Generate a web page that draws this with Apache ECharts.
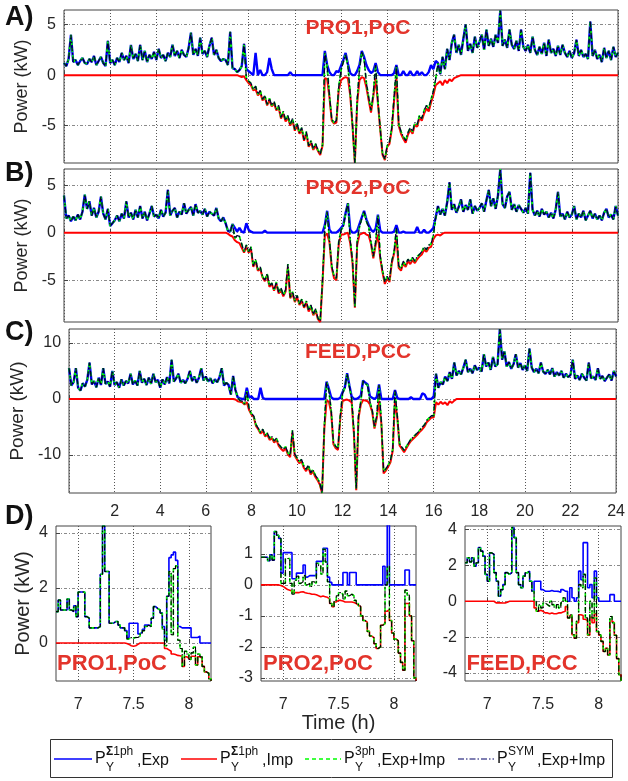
<!DOCTYPE html>
<html><head><meta charset="utf-8">
<script src="https://cdn.jsdelivr.net/npm/echarts@6/dist/echarts.min.js"></script>
<style>html,body{margin:0;padding:0;background:#fff}#c{width:628px;height:781px}</style>
</head><body><div id="c"></div>
<script>
// ---------------- DATA ----------------
// Top panels: 0..24 h, one value every 0.1 h
const topStep = 0.1;
const topTicksX = [2,4,6,8,10,12,14,16,18,20,22,24];

const netA = [
1.2,0.9,1.6,4.0,1.3,1.5,1.0,1.4,1.7,1.2,
1.1,1.6,1.3,1.9,1.0,1.4,1.8,1.2,0.9,3.4,
1.2,1.5,1.0,1.7,1.3,2.2,1.5,1.9,1.2,3.0,
1.6,2.1,1.4,3.0,1.5,2.4,1.3,2.0,1.6,2.3,
1.5,2.6,1.7,2.0,1.4,2.2,1.8,3.0,1.9,2.4,
1.7,2.5,2.0,1.8,2.7,4.2,2.0,2.6,1.9,3.7,
2.1,2.4,1.8,2.9,3.7,2.0,2.5,1.7,1.4,1.6,
1.5,1.0,4.3,0.7,0.6,0.3,0.5,0.9,3.1,-0.3,
-0.6,-0.8,-1.4,-1.1,-1.9,-1.5,-2.4,-2.0,-2.9,-2.3,
-3.0,-2.6,-3.4,-3.0,-4.2,-3.6,-4.5,-4.0,-4.9,-4.3,
-5.4,-4.8,-5.7,-5.2,-6.4,-5.6,-7.0,-6.5,-7.3,-6.8,
-7.4,-7.8,-6.9,2.2,0.8,-2.0,-4.4,-4.7,-4.5,-1.2,
0.5,1.3,2.0,0.9,-1.8,-5.0,-8.7,-2.5,0.6,2.3,
1.6,-0.8,-2.2,-3.5,-1.8,1.0,-2.6,-5.3,-7.8,-8.3,
-7.0,-6.6,-5.2,-2.2,0.9,-4.8,-5.6,-6.1,-6.5,-5.7,
-5.2,-5.6,-4.7,-4.9,-4.0,-4.3,-3.5,-3.0,-3.3,-2.4,
-1.6,-0.4,1.2,0.1,1.8,0.6,2.6,1.5,3.2,4.0,
2.2,3.0,2.0,3.6,5.0,2.4,3.1,2.2,3.8,2.7,
3.3,4.0,2.5,4.5,2.9,3.6,2.8,4.0,3.2,6.4,
2.9,3.5,2.7,4.5,3.0,2.6,3.4,2.4,4.5,2.8,
2.4,3.0,2.2,3.8,2.5,2.0,2.8,2.1,3.2,1.9,
3.5,2.2,2.6,1.9,2.9,2.0,3.0,2.2,1.8,2.4,
1.7,2.2,3.5,1.9,2.5,1.8,2.1,1.6,5.3,1.9,
2.5,1.6,2.0,1.3,2.7,1.7,2.4,1.5,2.8,1.8,
2.2];
const expADayStart = 7.7;
const expADay = [
0.9,3.1,0.6,
0.4,0.2,0.0,2.2,0.0,0.5,0.0,0.0,0.3,1.7,
0.6,0.0,0.0,0.0,0.0,0.0,0.0,0.0,0.3,0.0,
0.0,0.0,0.0,0.0,0.0,0.0,0.0,0.0,0.0,0.0,
0.0,0.0,0.0,2.4,1.0,0.3,0.0,0.0,0.4,0.3,
0.9,1.5,2.2,1.1,0.2,0.0,0.0,0.4,1.0,2.4,
1.8,1.0,0.5,0.2,0.4,1.2,0.3,0.0,0.0,0.0,
0.0,0.0,0.0,0.2,1.0,0.0,0.0,0.4,0.0,0.0,
0.4,0.0,0.0,0.4,0.0,0.3,0.0,0.0,0.3,1.0,
0.6,1.4];
const impADayStart = 7.5;
const impADay = [
0.0,-0.1,-0.2,-0.1,-0.5,
-0.8,-1.0,-1.5,-1.4,-2.0,-1.7,-2.5,-2.2,-3.0,-2.5,
-3.1,-2.8,-3.5,-3.2,-4.3,-3.8,-4.6,-4.2,-5.0,-4.5,
-5.5,-5.0,-5.8,-5.4,-6.5,-5.8,-7.1,-6.7,-7.4,-7.0,
-7.5,-7.9,-7.0,-0.3,-0.4,-2.2,-4.5,-4.8,-4.7,-1.5,
-0.5,-0.3,-0.2,-0.3,-2.0,-5.1,-8.7,-2.8,-0.5,-0.2,
-0.3,-1.2,-2.5,-3.7,-2.1,-0.3,-2.8,-5.4,-7.9,-8.4,
-7.1,-6.8,-5.4,-2.5,-0.3,-5.0,-5.8,-6.3,-6.7,-5.9,
-5.4,-5.8,-4.9,-5.1,-4.2,-4.5,-3.8,-3.3,-3.6,-2.7,
-2.0,-1.0,-0.8,-0.6,-1.0,-0.5,-0.8,-0.4,-0.6,-0.3,
-0.2,-0.1,0.0];

const netB = [
3.9,1.5,1.8,1.2,1.7,1.3,1.9,1.4,2.2,4.0,
2.5,3.3,1.8,2.6,1.6,2.2,3.8,2.0,1.4,2.5,
0.7,1.0,1.3,1.8,1.2,2.0,1.5,3.3,1.6,2.1,
1.4,2.4,1.6,2.8,1.5,2.2,1.3,2.0,2.8,1.7,
1.9,1.5,2.4,1.7,2.1,4.5,1.8,2.3,2.6,1.6,
2.2,1.9,3.1,2.0,2.4,2.7,1.8,3.0,2.1,2.3,
1.9,2.5,1.7,2.2,2.0,1.8,2.6,1.5,1.2,1.6,
1.0,0.2,0.1,0.9,-0.6,-0.3,-0.4,-1.2,-2.0,-1.3,
-2.0,-1.5,-3.5,-2.8,-3.9,-3.6,-4.6,-5.0,-4.3,-5.6,
-5.3,-6.0,-5.2,-6.3,-5.8,-6.6,-6.0,-3.3,-6.8,-6.2,
-7.2,-6.6,-7.5,-7.0,-7.8,-7.2,-8.2,-7.6,-8.6,-8.0,
-9.0,-9.3,-5.0,0.5,2.2,-0.8,-3.5,-4.6,-4.8,-1.0,
0.3,0.6,2.0,3.1,-0.8,-3.0,-7.8,-1.0,0.6,1.5,
2.2,1.2,0.6,-1.0,-2.5,-1.0,1.8,-2.5,-4.0,-5.2,
-4.6,-5.0,-3.0,-2.0,0.5,-3.5,-3.8,-3.0,-3.4,-2.8,
-3.1,-2.6,-3.0,-2.5,-2.3,-2.0,-1.5,-1.8,-1.3,-1.2,
-0.3,1.5,2.8,1.9,2.5,1.8,3.2,5.3,2.4,3.0,
2.1,2.7,3.5,2.2,2.9,2.4,3.5,2.0,2.8,2.3,
2.6,3.1,2.2,3.4,4.5,2.8,3.6,2.5,3.9,6.7,
3.0,2.6,3.8,4.3,2.4,3.0,2.2,2.9,2.5,2.1,
2.6,2.0,6.3,2.4,1.8,2.3,1.7,2.5,1.9,2.2,
1.6,2.1,1.5,2.4,4.3,1.7,2.0,1.4,2.2,1.6,
1.9,2.8,1.4,2.0,1.6,2.3,1.3,1.8,2.3,1.5,
2.0,1.4,1.8,1.3,2.1,2.5,1.6,1.9,1.4,2.8,
1.8];
const expBDayStart = 7.1;
const expBDay = [
0.2,0.1,0.9,0.5,0.1,0.5,0.1,0.0,1.0,
0.3,0.1,0.0,0.0,0.0,0.0,0.0,0.2,0.0,0.0,
0.0,0.0,0.0,0.0,0.0,0.0,0.0,0.0,0.0,0.0,
0.0,0.0,0.0,0.0,0.0,0.0,0.0,0.0,0.0,0.0,
0.0,0.0,0.0,0.8,2.3,0.3,0.0,0.0,0.0,0.2,
0.5,0.8,2.1,3.1,0.3,0.0,0.0,0.2,0.9,1.6,
2.3,1.4,0.8,0.3,0.1,0.4,1.9,0.2,0.0,0.0,
0.0,0.0,0.0,0.1,0.8,0.0,0.0,0.1,0.0,0.0,
0.0,0.0,0.0,0.6,0.0,0.0,0.3,0.0,0.0,0.2,
0.5,1.6];
const impBDayStart = 7.0;
const impBDay = [
0.0,-0.1,-0.3,-0.4,-0.8,-1.0,-1.1,-1.6,-2.1,-1.5,
-2.1,-1.7,-3.6,-3.0,-4.0,-3.8,-4.7,-5.1,-4.5,-5.7,
-5.4,-6.1,-5.4,-6.4,-6.0,-6.7,-6.2,-3.6,-6.9,-6.4,
-7.3,-6.8,-7.6,-7.2,-7.9,-7.4,-8.3,-7.8,-8.7,-8.2,
-9.1,-9.4,-5.2,-0.3,-0.1,-1.0,-3.7,-4.8,-5.0,-1.3,
-0.2,-0.2,-0.1,0.0,-1.1,-3.2,-7.9,-1.3,-0.2,-0.1,
0.0,-0.2,-0.3,-1.2,-2.7,-1.3,-0.2,-2.7,-4.2,-5.4,
-4.8,-5.2,-3.2,-2.2,-0.3,-3.7,-4.0,-3.2,-3.6,-3.0,
-3.3,-2.9,-3.2,-2.8,-2.5,-2.3,-1.8,-2.0,-1.6,-1.5,
-0.7,-0.3,-0.2,-0.3,-0.1,0.0];

const netC = [
5.5,2.4,3.0,5.5,2.0,1.5,2.8,2.2,3.4,6.5,
2.6,3.2,2.1,3.8,2.5,5.5,2.7,3.1,2.2,5.0,
2.5,3.0,2.0,3.5,2.4,3.2,2.8,4.5,2.6,3.3,
2.4,5.0,2.9,3.6,2.5,3.8,2.7,4.5,3.0,3.4,
2.0,3.5,2.6,3.9,2.8,7.0,3.1,3.7,4.5,2.9,
3.4,2.8,3.6,5.0,3.2,4.0,2.9,3.8,5.5,3.3,
4.0,3.1,3.7,2.8,3.5,3.0,3.9,5.5,2.4,2.9,
2.5,0.8,4.1,1.6,0.3,-0.3,-0.4,-0.9,1.4,-1.8,
-2.6,-3.0,-4.6,-5.2,-6.0,-5.4,-6.5,-6.1,-7.0,-6.7,
-7.5,-7.0,-8.1,-8.6,-9.0,-8.5,-9.6,-10.1,-5.6,-9.8,
-10.5,-11.2,-10.8,-12.0,-12.6,-11.8,-13.2,-12.6,-13.6,-14.2,
-15.0,-16.8,-5.0,3.0,1.5,-2.0,-7.8,-8.5,-8.8,-3.0,
1.0,2.0,4.5,2.2,0.0,-6.0,-16.0,-3.0,-0.5,3.2,
2.8,2.4,-0.5,-2.0,-5.0,-3.0,2.5,-4.0,-13.0,-12.5,
-11.8,-11.0,-9.0,1.5,-3.0,-8.0,-8.6,-9.2,-8.5,-7.8,
-7.2,-6.8,-6.4,-6.0,-5.5,-5.0,-4.6,-3.8,-3.4,-3.0,
-3.0,4.5,2.0,3.0,2.6,4.0,3.2,4.8,3.6,6.5,
4.2,5.0,4.4,5.6,7.0,4.8,5.4,4.6,6.0,5.2,
5.6,4.9,8.0,5.8,6.5,5.2,7.5,5.8,6.2,12.5,
7.0,8.5,5.8,6.6,5.4,6.2,8.0,5.6,6.4,5.2,
6.0,5.0,9.0,5.6,4.8,5.4,4.6,6.5,4.9,4.5,
5.2,4.4,5.5,4.0,4.8,4.2,5.0,3.8,4.5,3.9,
4.3,7.0,3.6,4.2,3.4,4.5,3.8,3.3,6.5,3.7,
4.0,3.4,5.5,3.6,4.1,3.2,3.8,4.4,3.3,5.0,
4.0];
const expCDayStart = 7.4;
const expCDay = [
0.3,0.1,0.0,0.0,2.0,0.2,
0.5,0.0,0.0,0.0,2.0,0.2,0.0,0.0,0.0,0.0,
0.0,0.0,0.0,0.0,0.0,0.0,0.0,0.0,0.0,0.0,
0.0,0.0,0.0,0.0,0.0,0.0,0.0,0.0,0.0,0.0,
0.0,0.0,0.0,3.1,1.8,0.3,0.0,0.0,0.0,0.2,
1.2,2.1,4.6,2.4,0.4,0.0,0.0,0.2,0.6,3.3,
2.9,2.6,0.5,0.2,0.0,0.3,2.6,0.0,0.0,0.0,
0.0,0.0,0.0,1.6,0.2,0.0,0.0,0.0,0.0,0.0,
0.3,0.0,0.0,0.0,0.0,1.0,0.8,0.0,0.0,0.0,
0.5,4.5];
const impCDayStart = 7.2;
const impCDay = [
0.0,-0.1,-0.4,-0.5,-0.6,-1.0,-0.6,-2.0,
-2.8,-3.2,-4.8,-5.4,-6.2,-5.7,-6.7,-6.4,-7.3,-7.0,
-7.8,-7.3,-8.4,-8.9,-9.3,-8.8,-9.9,-10.4,-6.0,-10.1,
-10.8,-11.5,-11.1,-12.3,-12.9,-12.1,-13.5,-12.9,-13.9,-14.5,
-15.3,-16.8,-5.3,-0.3,-0.5,-2.4,-8.1,-8.8,-9.1,-3.4,
-0.4,-0.2,-0.1,-0.3,-0.6,-6.3,-16.3,-3.4,-1.0,-0.2,
-0.3,-0.4,-1.0,-2.3,-5.3,-3.4,-0.3,-4.3,-13.3,-12.8,
-12.1,-11.3,-9.3,-0.3,-3.3,-8.3,-8.9,-9.5,-8.8,-8.1,
-7.5,-7.1,-6.7,-6.3,-5.8,-5.4,-4.9,-4.1,-3.7,-3.3,
-3.3,-0.6,-1.0,-0.5,-0.9,-0.6,-1.1,-0.4,-0.7,-0.3,
0.0];

// Zoomed panels D: 6.80..8.20 h, one value every 0.02 h
const dStart = 6.8, dStep = 0.02;
const dTicksX = [7, 7.5, 8];
const d1Net = [1.14,1.56,1.2,1.2,1.2,1.6,1.2,1.14,1.35,0.96,1.85,1.85,1.85,0.96,0.9,0.55,0.55,0.55,0.55,0.6,
2.5,4.25,2.6,2.6,0.72,0.72,0.78,0.78,0.65,0.55,0.55,0.45,0.15,0.2,0.18,0.2,0.2,0.25,0.36,0.45,
0.6,0.65,0.6,0.9,1.32,1.25,1.2,1.08,0.5,-0.1,1.7,2.6,0.3,2.7,2.8,0.1,-0.2,-0.85,-0.3,-0.4,
-0.6,-0.36,-0.15,-0.8,-0.4,-0.5,-0.85,-1.05,-1.1,-1.3,-1.38];
const d1Exp = [1.14,1.56,1.2,1.2,1.2,1.6,1.2,1.14,1.35,0.96,1.85,1.85,1.85,0.96,0.9,0.55,0.55,0.55,0.55,0.6,
2.5,4.25,2.6,2.6,0.72,0.72,0.78,0.78,0.65,0.55,0.55,0.45,0.2,0.72,0.72,0.72,0.72,0.33,0.4,0.5,
0.65,0.65,0.6,0.9,1.32,1.25,1.2,1.1,0.6,0.1,1.7,3.1,3.2,3.3,3.0,0.6,0.55,0.55,0.55,0.55,
0.55,0.2,0.2,0.2,0.25,0,0,0,0,0,0];
const d1Imp = [0,0,0,0,0,0,0,0,0,0,0,0,0,0,0,0,0,0,0,0,
0,0,0,0,0,0,0,0,0,0,0,-0.02,-0.05,-0.1,-0.12,-0.1,-0.05,0,0,0,
0,0,0,0,0,0,0,0,0,-0.2,-0.25,-0.3,-0.4,-0.42,-0.45,-0.46,-0.48,-0.85,-0.5,-0.55,
-0.6,-0.48,-0.48,-0.8,-0.5,-0.55,-0.85,-1.05,-1.1,-1.3,-1.38];

const d2Net = [0.89,0.89,0.89,0.78,0.97,0.8,1.72,1.6,1.5,0.05,0.05,0.85,0.85,0.05,-0.3,0.15,0.28,0.05,0.1,0.3,
0.0,0.05,-0.05,0.1,0.05,0.7,0.62,0.35,1.15,0.74,0.1,-0.6,-0.7,-0.5,-0.35,-0.25,-0.3,-0.45,-0.2,-0.35,
-0.3,-0.35,-0.5,-0.6,-0.68,-1.0,-1.15,-1.2,-1.5,-1.65,-1.7,-1.9,-2.05,-2.0,-1.3,-1.25,0.0,0.6,-1.15,-1.55,
-1.75,-1.8,-2.2,-2.5,-2.75,-0.17,-0.33,-1.0,-1.8,-3.0,-3.1];
const d2Exp = [0.89,0.89,0.89,0.78,0.97,0.8,1.72,1.6,1.5,0.38,1.04,1.04,1.04,1.04,0.2,0.2,0.38,0.38,0.38,0.64,
0.25,0.3,0.3,0.3,0.3,0.76,0.76,0.76,1.18,1.18,0.25,0.08,0,0,0,0,0,0.4,0.4,0,
0.4,0.4,0.4,0,0,0,0,0,0,0,0,0,0,0,0,0.6,0,1.94,0,0,
0,0,0,0,0,0.48,0.48,0,0,0,0];
const d2Imp = [0,0,0,0,0,0,0,0,-0.02,-0.05,-0.1,-0.15,-0.17,-0.2,-0.25,-0.25,-0.25,-0.23,-0.22,-0.25,
-0.27,-0.28,-0.3,-0.3,-0.32,-0.35,-0.38,-0.36,-0.38,-0.4,-0.45,-0.6,-0.7,-0.55,-0.5,-0.5,-0.52,-0.55,-0.55,-0.55,
-0.55,-0.57,-0.6,-0.65,-0.7,-1.0,-1.15,-1.2,-1.5,-1.65,-1.7,-1.9,-2.05,-2.0,-1.3,-1.25,-0.85,-0.8,-1.15,-1.55,
-1.75,-1.8,-2.2,-2.5,-2.75,-0.6,-0.6,-1.0,-1.8,-3.0,-3.1];

const d3Net = [2.15,2.43,2.2,2.43,1.96,2.15,3.0,2.8,2.52,1.5,1.12,2.7,2.62,1.6,1.12,0.28,0.65,0.93,1.6,1.5,
1.6,4.11,3.55,1.6,0.93,0.75,1.4,1.59,1.68,1.12,0.56,0.0,-0.56,-0.2,-0.37,-0.1,-0.19,-0.28,0.0,-0.19,
-0.37,-0.19,-0.37,-0.09,0.19,0.0,-0.93,-0.75,-1.87,-2.06,-1.12,0.93,0.75,1.5,-0.93,-1.87,0.0,-0.93,1.3,-1.68,
-1.87,-2.24,-2.8,-2.62,-3.0,-0.85,-1.2,-1.9,-3.2,-4.1,-4.45];
const d3Exp = [2.15,2.43,2.2,2.43,1.96,2.15,3.0,2.8,2.52,1.5,1.12,2.7,2.62,1.6,1.12,0.28,0.65,0.93,1.6,1.5,
1.6,4.11,3.55,1.6,0.93,0.75,1.4,1.59,1.68,1.12,0.56,1.12,1.12,1.12,0.65,0.56,0.56,0.56,0.6,0.56,
0.56,0.55,0.5,0.65,0.56,0.56,0.0,0.75,0.2,0.0,0.2,1.68,1.2,3.27,3.27,0.75,0.93,0.2,1.68,0.2,
0,0,0,0,0,0.37,0.37,0,0,0,0];
const d3Imp = [0,0,0,0,0,0,0,0,0,0,0,0,0,-0.09,-0.09,-0.09,-0.1,-0.09,-0.05,0,
0,0,0,0,0,0,0,0,0,0,0,-0.37,-0.56,-0.5,-0.56,-0.65,-0.65,-0.7,-0.65,-0.7,
-0.7,-0.65,-0.65,-0.6,-0.56,-0.3,-0.93,-0.8,-1.87,-2.06,-1.2,-0.75,-0.8,-1.0,-1.1,-1.9,-0.9,-1.2,-0.7,-1.7,
-1.9,-2.24,-2.8,-2.62,-3.0,-1.1,-1.2,-1.9,-3.2,-4.1,-4.45];

// axis limits and tick values
const yTicksA = [-5,0,5], yTicksB = [-5,0,5], yTicksC = [-10,0,10];
const yTicksD1 = [0,2,4], yTicksD2 = [-3,-2,-1,0,1], yTicksD3 = [-4,-2,0,2,4];

// ---------------- BUILD ----------------
const FONT = "'Liberation Sans', Arial, Helvetica, sans-serif";
const TXT = '#262626';
function tTop(i){ return Math.round(i*topStep*10)/10; }
function tD(i){ return Math.round((dStart + i*dStep)*100)/100; }
function buildTop(net, eStart, eDay, iStart, iDay){
  const iE = Math.round(eStart/topStep), iI = Math.round(iStart/topStep);
  return {
    tot: net.map((v,i)=>[tTop(i), v]),
    exp: net.map((v,i)=>{const j=i-iE; return [tTop(i), (j>=0&&j<eDay.length)?eDay[j]:v];}),
    imp: net.map((v,i)=>{const j=i-iI; return [tTop(i), (j>=0&&j<iDay.length)?iDay[j]:0];})
  };
}
function pairs(a){ return a.map((v,i)=>[tD(i), v]); }

const A = buildTop(netA, expADayStart, expADay, impADayStart, impADay);
const B = buildTop(netB, expBDayStart, expBDay, impBDayStart, impBDay);
const C = buildTop(netC, expCDayStart, expCDay, impCDayStart, impCDay);
const D = [
  {exp: pairs(d1Exp), imp: pairs(d1Imp), tot: pairs(d1Net)},
  {exp: pairs(d2Exp), imp: pairs(d2Imp), tot: pairs(d2Net)},
  {exp: pairs(d3Exp), imp: pairs(d3Imp), tot: pairs(d3Net)}
];

const grids = [
  {left:64, top:10, width:554, height:153},
  {left:64, top:169, width:554, height:153},
  {left:64, top:329, width:554, height:164},
  {left:56, top:526, width:155, height:155},
  {left:261, top:526, width:155, height:155},
  {left:465, top:526, width:156, height:155}
].map(g=>Object.assign({show:true, borderColor:'#444', borderWidth:1, backgroundColor:'rgba(0,0,0,0)'}, g));

const vGrid = {show:true, lineStyle:{color:'#555', width:1, type:[1,2]}};
const hGrid = {show:true, lineStyle:{color:'#8a8a8a', width:1, type:[3,2,1,2]}};
const tick = {show:true, inside:true, length:4, lineStyle:{color:'#444'}};

function xTopAxis(g, labels){
  return {gridIndex:g, type:'value', min:0, max:24, interval:2,
    axisLine:{show:false}, axisTick:tick, splitLine:vGrid,
    axisLabel: labels ? {show:true, customValues:topTicksX, fontSize:16, margin:11, color:TXT, fontFamily:FONT} : {show:false}};
}
function xDAxis(g, name){
  const ax = {gridIndex:g, type:'value', min:6.8, max:8.2,
    axisLine:{show:false}, axisTick:Object.assign({customValues:dTicksX}, tick), splitLine:vGrid,
    axisLabel:{customValues:dTicksX, fontSize:16, margin:16, color:TXT, fontFamily:FONT}};
  if (name){ Object.assign(ax, {name, nameLocation:'middle', nameGap:27, nameTextStyle:{fontSize:20, color:TXT, fontFamily:FONT}}); }
  return ax;
}
function yAxis(g, min, max, ticks, name, gap, size){
  const ax = {gridIndex:g, type:'value', min, max,
    axisLine:{show:false}, axisTick:Object.assign({customValues:ticks}, tick), splitLine:hGrid,
    axisLabel:{customValues:ticks, fontSize:16, margin:8, color:TXT, fontFamily:FONT}};
  if (name){ Object.assign(ax, {name, nameLocation:'middle', nameGap:gap, nameRotate:90, nameTextStyle:{fontSize:size, color:TXT, fontFamily:FONT}}); }
  return ax;
}

const xAxes = [xTopAxis(0,false), xTopAxis(1,false), xTopAxis(2,true), xDAxis(3), xDAxis(4,'Time (h)'), xDAxis(5)];
const yAxes = [
  yAxis(0, -8.7, 6.45, yTicksA, 'Power (kW)', 30, 18),
  yAxis(1, -9.4, 6.7, yTicksB, 'Power (kW)', 30, 18),
  yAxis(2, -16.8, 12.5, yTicksC, 'Power (kW)', 36, 19),
  yAxis(3, -1.38, 4.25, yTicksD1, 'Power (kW)', 23, 20),
  yAxis(4, -3.1, 1.9, yTicksD2),
  yAxis(5, -4.45, 4.2, yTicksD3)
];

const NAMES = ['Exp \u03a31ph','Imp \u03a31ph','Exp+Imp 3ph','Exp+Imp SYM'];
function ln(g, name, data, color, width, type, z, step){
  return {type:'line', name, xAxisIndex:g, yAxisIndex:g, data, symbol:'none', showSymbol:false,
    step: step || false, lineStyle:{color, width, type}, itemStyle:{color}, z, silent:true, animation:false, clip:true};
}
const series = [];
[A,B,C].forEach((P,g)=>{
  series.push(ln(g, NAMES[0], P.exp, '#0000ff', 2.4, 'solid', 2));
  series.push(ln(g, NAMES[1], P.imp, '#ff0000', 2, 'solid', 3));
  series.push(ln(g, NAMES[2], P.tot, '#00ff00', 1.8, [4,3], 4));
  series.push(ln(g, NAMES[3], P.tot, '#000033', 1.3, [6,2,1.5,2], 5));
});
D.forEach((P,k)=>{
  const g = 3+k;
  series.push(ln(g, NAMES[0], P.exp, '#0000ff', 1.6, 'solid', 2, 'end'));
  series.push(ln(g, NAMES[1], P.imp, '#ff0000', 1.6, 'solid', 3, 'end'));
  series.push(ln(g, NAMES[2], P.tot, '#00ff00', 1.6, [4,3], 4, 'end'));
  series.push(ln(g, NAMES[3], P.tot, '#000000', 1.1, [6,2,1.5,2], 5, 'end'));
});

// ---------------- TEXT / LEGEND GRAPHICS ----------------
const RED = '#e3342b';
function txt(x, y, text, size, opts){
  return {type:'text', x, y, silent:true, z:100, style:Object.assign({text, fontSize:size, fontFamily:FONT, fill:'#111', align:'left', verticalAlign:'middle'}, opts||{})};
}
const graphics = [
  txt(5, 18, 'A)', 27, {fontWeight:'bold'}),
  txt(5, 174, 'B)', 27, {fontWeight:'bold'}),
  txt(5, 333, 'C)', 27, {fontWeight:'bold'}),
  txt(5, 517, 'D)', 27, {fontWeight:'bold'}),
  txt(358, 28, 'PRO1,PoC', 21, {fontWeight:'bold', fill:RED, align:'center'}),
  txt(358, 188, 'PRO2,PoC', 21, {fontWeight:'bold', fill:RED, align:'center'}),
  txt(358, 352, 'FEED,PCC', 21, {fontWeight:'bold', fill:RED, align:'center'}),
  txt(112, 664, 'PRO1,PoC', 22, {fontWeight:'bold', fill:RED, align:'center'}),
  txt(318, 664, 'PRO2,PoC', 22, {fontWeight:'bold', fill:RED, align:'center'}),
  txt(522, 664, 'FEED,PCC', 22, {fontWeight:'bold', fill:RED, align:'center'}),
  {type:'rect', z:90, silent:true, shape:{x:50.5, y:739.5, width:562, height:38}, style:{fill:'#fff', stroke:'#333', lineWidth:1}}
];
const LY = 759;
const legendItems = [
  {x1:54, x2:92, color:'#0000ff', dash:null, w:1.5, sup:'{b|\u03a3}1ph', tail:',Exp', supW:31},
  {x1:181, x2:217, color:'#ff0000', dash:null, w:1.5, sup:'{b|\u03a3}1ph', tail:',Imp', supW:31},
  {x1:305, x2:341, color:'#00ff00', dash:[4,3], w:1.5, sup:'3ph', tail:',Exp+Imp', supW:22},
  {x1:458, x2:494, color:'#000066', dash:[6,2,1.5,2], w:1.2, sup:'SYM', tail:',Exp+Imp', supW:29}
];
legendItems.forEach(it=>{
  graphics.push({type:'line', z:100, silent:true, shape:{x1:it.x1, y1:LY, x2:it.x2, y2:LY}, style:{stroke:it.color, lineWidth:it.w, lineDash:it.dash}});
  const px = it.x2 + 3;
  graphics.push(txt(px, LY, 'P', 16));
  graphics.push(txt(px+11, LY-7, it.sup, 12, {rich:{b:{fontWeight:'bold', fontSize:12, fontFamily:FONT}}}));
  graphics.push(txt(px+11, LY+9, 'Y', 12));
  graphics.push(txt(px+11+it.supW, LY+2, it.tail, 16));
});

const chart = echarts.init(document.getElementById('c'), null, {renderer:'canvas'});
chart.setOption({
  animation:false,
  backgroundColor:'#fff',
  textStyle:{fontFamily:FONT},
  grid: grids,
  xAxis: xAxes,
  yAxis: yAxes,
  series,
  graphic: graphics
});
</script></body></html>
